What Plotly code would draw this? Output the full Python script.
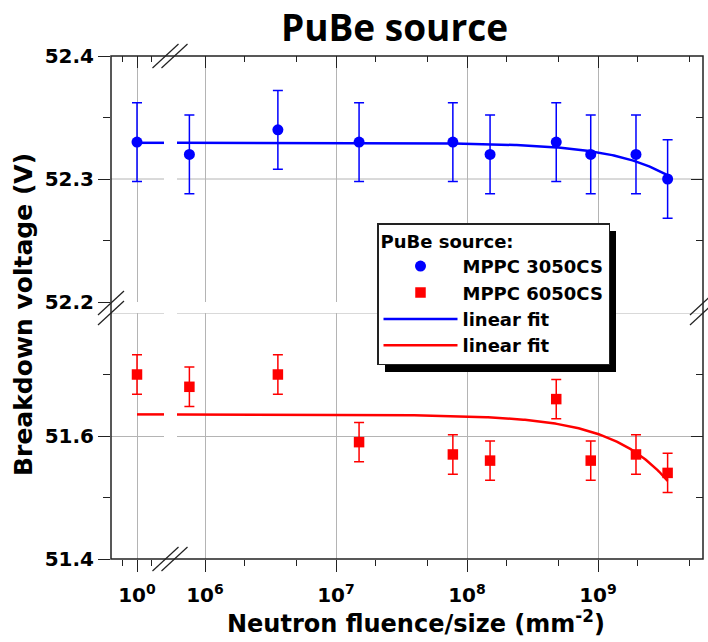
import numpy as np
import plotly.graph_objects as go

# ---------------- data ----------------
fluence = [1, 7.6e5, 3.6e6, 1.5e7, 7.8e7, 1.5e8, 4.8e8, 8.8e8, 1.95e9, 3.4e9]
vbd_3050 = [52.33, 52.32, 52.34, 52.33, 52.33, 52.32, 52.33, 52.32, 52.32, 52.30]
err_3050 = [0.032] * 10
vbd_6050 = [51.70, 51.68, 51.70, 51.59, 51.57, 51.56, 51.66, 51.56, 51.57, 51.54]
err_6050 = [0.032] * 10

x_tick_left = [1]
x_tick_left_text = ["10<sup>0</sup>"]
x_tick_right = [1e6, 1e7, 1e8, 1e9]
x_tick_right_text = ["10<sup>6</sup>", "10<sup>7</sup>", "10<sup>8</sup>", "10<sup>9</sup>"]
x_minor_right = [2e6, 5e6, 2e7, 5e7, 2e8, 5e8, 2e9, 5e9]
x_minor_left = [0, 2]
y_top_ticks = [52.2, 52.3, 52.4]
y_top_minor = [52.25, 52.35]
y_bot_ticks = [51.4, 51.6]
y_bot_minor = [51.5, 51.7]
y_top_grid = [52.3]
y_bot_grid = [51.8]

# ---------------- geometry (pixels) ----------------
W, H = 708, 642
L, R, T, B = 111, 5, 56, 83
PW, PH = W - L - R, H - T - B


def px(xp):
    return (xp - L) / PW


def py(yp):
    return (H - B - yp) / PH


FONT = "DejaVu Sans"
BLUE = "#0000ff"
RED = "#ff0000"
GRID = "#b4b4b4"
AX = "#222222"

x = np.array(fluence, dtype=float)
fit_b = np.polyfit(x, np.array(vbd_3050), 1)
fit_r = np.polyfit(x, np.array(vbd_6050), 1)
xr_fit = np.logspace(5.7, np.log10(x[-1]), 300)
xl_fit = np.array([fluence[0], 3.0])

fig = go.Figure()

# right column (legend entries)
fig.add_trace(go.Scatter(x=fluence[1:], y=vbd_3050[1:], mode="markers", name="MPPC 3050CS",
                         xaxis="x2", yaxis="y2", legendgroup="b",
                         marker=dict(symbol="circle", size=11, color=BLUE),
                         error_y=dict(type="data", array=err_3050[1:], color=BLUE, thickness=1.5, width=5)))
fig.add_trace(go.Scatter(x=fluence[1:], y=vbd_6050[1:], mode="markers", name="MPPC 6050CS",
                         xaxis="x2", yaxis="y", legendgroup="r",
                         marker=dict(symbol="square", size=10.5, color=RED),
                         error_y=dict(type="data", array=err_6050[1:], color=RED, thickness=1.5, width=5)))
fig.add_trace(go.Scatter(x=xr_fit, y=np.polyval(fit_b, xr_fit), mode="lines", name="linear fit",
                         xaxis="x2", yaxis="y2", legendgroup="bf", line=dict(color=BLUE, width=2.5)))
fig.add_trace(go.Scatter(x=xr_fit, y=np.polyval(fit_r, xr_fit), mode="lines", name="linear fit",
                         xaxis="x2", yaxis="y", legendgroup="rf", line=dict(color=RED, width=2.5)))
# left column
fig.add_trace(go.Scatter(x=xl_fit, y=np.polyval(fit_b, xl_fit), mode="lines", showlegend=False,
                         xaxis="x", yaxis="y2", line=dict(color=BLUE, width=2.5)))
fig.add_trace(go.Scatter(x=xl_fit, y=np.polyval(fit_r, xl_fit), mode="lines", showlegend=False,
                         xaxis="x", yaxis="y", line=dict(color=RED, width=2.5)))
fig.add_trace(go.Scatter(x=fluence[:1], y=vbd_3050[:1], mode="markers", showlegend=False,
                         xaxis="x", yaxis="y2",
                         marker=dict(symbol="circle", size=11, color=BLUE),
                         error_y=dict(type="data", array=err_3050[:1], color=BLUE, thickness=1.5, width=5)))
fig.add_trace(go.Scatter(x=fluence[:1], y=vbd_6050[:1], mode="markers", showlegend=False,
                         xaxis="x", yaxis="y",
                         marker=dict(symbol="square", size=10.5, color=RED),
                         error_y=dict(type="data", array=err_6050[:1], color=RED, thickness=1.5, width=5)))
# empty traces for mirror-tick axes
for xa, ya in [("x3", "y2"), ("x4", "y2"), ("x2", "y3"), ("x2", "y4")]:
    fig.add_trace(go.Scatter(x=[], y=[], xaxis=xa, yaxis=ya, showlegend=False, hoverinfo="skip"))

tickfont = dict(family=FONT, size=20, color="black", weight="bold")
xl_dom = [0, px(164)]
xr_dom = [px(177), 1]
yb_dom = [0, py(313)]
yt_dom = [py(302), 1]
xl_range = [1 - 26 / 14.5, 1 + 27 / 14.5]
xr_range = [6 - 28 / 131, 9 + 105 / 131]

common = dict(showline=False, zeroline=False, tickcolor=AX, tickwidth=1.3, tickfont=tickfont,
              gridcolor=GRID, gridwidth=1)

fig.update_layout(
    width=W, height=H,
    margin=dict(l=L, r=R, t=T, b=B),
    paper_bgcolor="white", plot_bgcolor="white",
    title=dict(text="<b>PuBe source</b>", x=394.5 / W, xref="container", xanchor="center",
               y=1 - 28 / H, yref="container", yanchor="middle",
               font=dict(family="Open Sans", size=37, color="black")),
    xaxis=dict(domain=xl_dom, anchor="y", type="linear", range=xl_range,
               tickmode="array", tickvals=x_tick_left, ticktext=x_tick_left_text,
               ticks="outside", ticklen=12, showgrid=True, ticklabelstandoff=6,
               minor=dict(tickmode="array", tickvals=x_minor_left, ticks="outside", ticklen=6,
                          tickcolor=AX, tickwidth=1.3, showgrid=False), **common),
    xaxis2=dict(domain=xr_dom, anchor="y", type="log", range=xr_range,
                tickmode="array", tickvals=x_tick_right, ticktext=x_tick_right_text,
                ticks="outside", ticklen=12, showgrid=True, ticklabelstandoff=6,
                minor=dict(tickmode="array", tickvals=x_minor_right, ticks="outside", ticklen=6,
                           tickcolor=AX, tickwidth=1.3, showgrid=False), **common),
    xaxis3=dict(overlaying="x2", anchor="y2", side="top", type="log", range=xr_range,
                tickmode="array", tickvals=x_tick_right, showticklabels=False,
                ticks="inside", ticklen=12, showgrid=False,
                minor=dict(tickmode="array", tickvals=x_minor_right, ticks="inside", ticklen=6,
                           tickcolor=AX, tickwidth=1.3, showgrid=False), **common),
    xaxis4=dict(overlaying="x", anchor="y2", side="top", type="linear", range=xl_range,
                tickmode="array", tickvals=x_tick_left, showticklabels=False,
                ticks="inside", ticklen=12, showgrid=False,
                minor=dict(tickmode="array", tickvals=x_minor_left, ticks="inside", ticklen=6,
                           tickcolor=AX, tickwidth=1.3, showgrid=False), **common),
    yaxis=dict(domain=yb_dom, anchor="x", range=[51.4, 51.8],
               tickmode="array", tickvals=y_bot_ticks, ticktext=[f"{v:.1f}" for v in y_bot_ticks],
               ticks="outside", ticklen=12, showgrid=True,
               minor=dict(tickmode="array", tickvals=y_bot_minor, ticks="outside", ticklen=7,
                          tickcolor=AX, tickwidth=1.3, showgrid=False), **common),
    yaxis2=dict(domain=yt_dom, anchor="x", range=[52.2, 52.4],
                tickmode="array", tickvals=y_top_ticks, ticktext=[f"{v:.1f}" for v in y_top_ticks],
                ticks="outside", ticklen=12, showgrid=False,
                minor=dict(tickmode="array", tickvals=y_top_minor, ticks="outside", ticklen=7,
                           tickcolor=AX, tickwidth=1.3, showgrid=False), **common),
    yaxis3=dict(overlaying="y2", anchor="x2", side="right", range=[52.2, 52.4],
                tickmode="array", tickvals=y_top_ticks, showticklabels=False,
                ticks="inside", ticklen=12, showgrid=False,
                minor=dict(tickmode="array", tickvals=y_top_minor, ticks="inside", ticklen=7,
                           tickcolor=AX, tickwidth=1.3, showgrid=False), **common),
    yaxis4=dict(overlaying="y", anchor="x2", side="right", range=[51.4, 51.8],
                tickmode="array", tickvals=y_bot_ticks, showticklabels=False,
                ticks="inside", ticklen=12, showgrid=False,
                minor=dict(tickmode="array", tickvals=y_bot_minor, ticks="inside", ticklen=7,
                           tickcolor=AX, tickwidth=1.3, showgrid=False), **common),
    legend=dict(x=px(377), y=py(223), xanchor="left", yanchor="top",
                bgcolor="white", bordercolor=AX, borderwidth=1.5,
                font=dict(family=FONT, size=18, color="black", weight="bold"),
                title=dict(text="PuBe source:", font=dict(family=FONT, size=18, color="black", weight="bold")),
                tracegroupgap=0, itemwidth=74),
    showlegend=True,
)

shapes = []
# extra gridlines
for xd in ["x domain", "x2 domain"]:
    for v in y_top_grid:
        shapes.append(dict(type="line", xref=xd, yref="y2", x0=0, x1=1, y0=v, y1=v,
                           line=dict(color=GRID, width=1), layer="below"))
    for v in y_bot_grid:
        shapes.append(dict(type="line", xref=xd, yref="y", x0=0, x1=1, y0=v, y1=v,
                           line=dict(color=GRID, width=1), layer="below"))
# frame
shapes.append(dict(type="rect", xref="paper", yref="paper", x0=0, x1=1, y0=0, y1=1,
                   line=dict(color=AX, width=1.5), layer="above"))
# legend shadow
shapes.append(dict(type="rect", xref="paper", yref="paper", x0=px(385), x1=px(616),
                   y0=py(372), y1=py(231), fillcolor="black", line=dict(width=0), layer="above"))


# break marks
def brk(cx, cy):
    out = []
    for dx in (-4.5, 4.5):
        out.append(dict(type="line", xref="paper", yref="paper",
                        x0=px(cx + dx - 13), y0=py(cy + 12), x1=px(cx + dx + 13), y1=py(cy - 12),
                        line=dict(color=AX, width=1.2), layer="above"))
    return out


def brk_v(cx, cy):
    out = []
    for dy in (-5, 5):
        out.append(dict(type="line", xref="paper", yref="paper",
                        x0=px(cx - 13), y0=py(cy + dy + 12), x1=px(cx + 13), y1=py(cy + dy - 12),
                        line=dict(color=AX, width=1.2), layer="above"))
    return out


shapes += brk(170, 56) + brk(170, 559) + brk_v(111, 308) + brk_v(703, 308)
fig.update_layout(shapes=shapes)

fig.add_annotation(text="<b>Breakdown voltage (V)</b>", xref="paper", yref="paper",
                   x=px(23), y=py(315), textangle=-90, showarrow=False,
                   xanchor="center", yanchor="middle",
                   font=dict(family=FONT, size=25, color="black"))
fig.add_annotation(text="<b>Neutron fluence/size (mm<sup>-2</sup>)</b>", xref="paper", yref="paper",
                   x=px(416), y=py(622), showarrow=False, xanchor="center", yanchor="middle",
                   font=dict(family=FONT, size=24, color="black"))

fig.write_html("out.html")
